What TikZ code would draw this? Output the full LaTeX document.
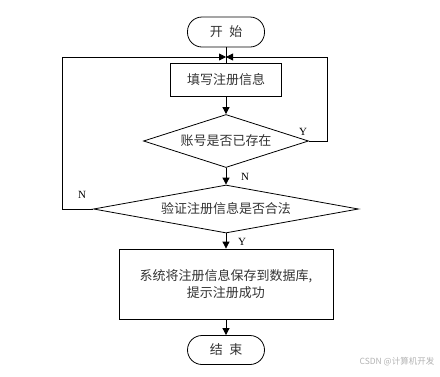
\documentclass[tikz,border=0pt]{standalone}
\usepackage{fontspec}
\setmainfont{Liberation Serif}
\newfontfamily\cjk{Noto Sans CJK SC}
\usetikzlibrary{shapes.geometric,arrows.meta}

\begin{document}
\begin{tikzpicture}[x=1pt, y=-1pt, >={Triangle[length=7pt,width=7pt]},
    line width=0.8pt,
    every node/.style={font=\cjk\fontsize{13}{17}\selectfont, text=black!80},
    terminal/.style={draw, rectangle, rounded corners=14.5pt, minimum width=77pt, minimum height=30pt, inner sep=0pt},
    process/.style={draw, rectangle, inner sep=0pt, align=center},
    decision/.style={draw, diamond, inner sep=0pt}]

    \useasboundingbox (0,0) rectangle (440,376);

    % Nodes
    \node[terminal] (start) at (226,32) {开\enspace 始};
    \node[process, minimum width=111pt, minimum height=33pt] (fill) at (226,80) {填写注册信息};
    \node[decision, shape aspect=3.1, minimum width=165pt, minimum height=53pt] (exist) at (226,141) {账号是否已存在};
    \node[decision, shape aspect=5.5, minimum width=265pt, minimum height=48pt] (valid) at (226,209) {验证注册信息是否合法};
    \node[process, minimum width=214pt, minimum height=70pt] (save) at (226,284) {系统将注册信息保存到数据库,\\提示注册成功};
    \node[terminal, minimum height=29pt] (stop) at (226,350) {结\enspace 束};
    \coordinate (join) at (226,57);

    % Edges
    \draw (start) -- (fill);
    \draw[->] (fill) -- (exist);
    \draw[->] (exist.east) -- (327,141) |- (join);
    \draw[->] (exist) -- (valid);
    \draw[->] (valid.west) -- (62,209) |- (join);
    \draw[->] (valid) -- (save);
    \draw[->] (save) -- (stop);

    % Branch labels
    \tikzset{every node/.style={font=\rmfamily\fontsize{11}{13}\selectfont, text=black}}
    \node (y1) at (303,132) {Y};
    \node (n1) at (245,177) {N};
    \node (n2) at (82,195) {N};
    \node (y2) at (242,242) {Y};

    \node[anchor=east, font=\cjk\fontsize{8.5}{10}\selectfont, text=black!30] (mark) at (438,362) {CSDN @计算机开发};

\end{tikzpicture}
\end{document}
